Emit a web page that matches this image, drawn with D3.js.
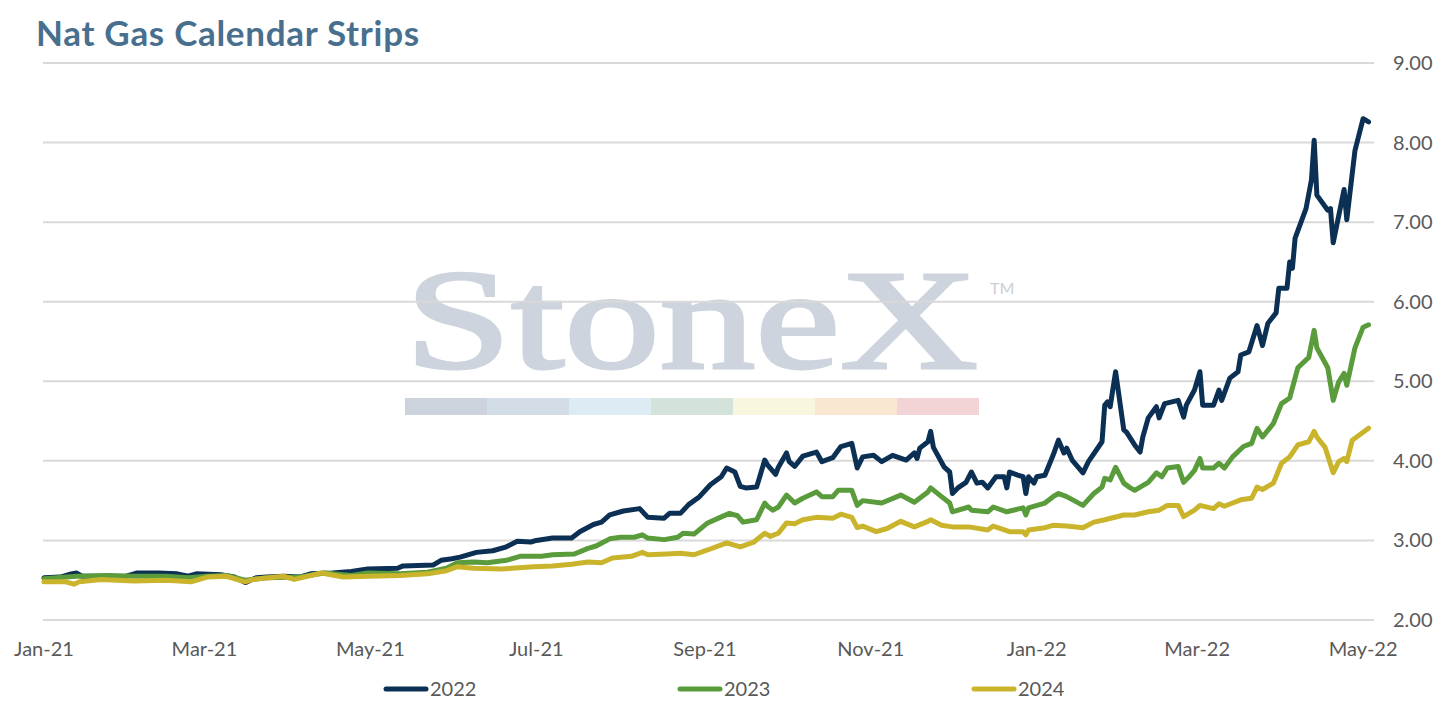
<!DOCTYPE html>
<html>
<head>
<meta charset="utf-8">
<title>Nat Gas Calendar Strips</title>
<script src="https://cdn.jsdelivr.net/npm/d3@7"></script>
<style>
  body { margin: 0; background: #fff; }
  svg { display: block; font-family: Lato, "Open Sans", sans-serif; }
</style>
</head>
<body>
<svg id="chart" width="1443" height="709"></svg>
<script>
// calendar strip settlements, [date, $/MMBtu]
var strip2022 = [["2021-01-01",2.53],["2021-01-07",2.54],["2021-01-11",2.58],["2021-01-13",2.59],["2021-01-15",2.55],["2021-01-25",2.55],["2021-01-30",2.54],["2021-02-04",2.59],["2021-02-12",2.59],["2021-02-19",2.58],["2021-02-23",2.55],["2021-02-26",2.58],["2021-03-07",2.57],["2021-03-12",2.54],["2021-03-16",2.47],["2021-03-20",2.53],["2021-03-24",2.54],["2021-03-30",2.55],["2021-04-05",2.54],["2021-04-09",2.58],["2021-04-17",2.59],["2021-04-24",2.61],["2021-04-30",2.64],["2021-05-11",2.65],["2021-05-13",2.68],["2021-05-24",2.69],["2021-05-27",2.75],["2021-05-31",2.77],["2021-06-03",2.79],["2021-06-09",2.85],["2021-06-15",2.87],["2021-06-20",2.92],["2021-06-24",2.99],["2021-06-29",2.98],["2021-07-01",3.00],["2021-07-07",3.03],["2021-07-14",3.03],["2021-07-17",3.11],["2021-07-22",3.20],["2021-07-25",3.23],["2021-07-28",3.32],["2021-08-02",3.37],["2021-08-08",3.40],["2021-08-11",3.29],["2021-08-17",3.28],["2021-08-19",3.34],["2021-08-23",3.34],["2021-08-26",3.45],["2021-08-30",3.55],["2021-09-03",3.70],["2021-09-07",3.80],["2021-09-09",3.91],["2021-09-12",3.86],["2021-09-14",3.68],["2021-09-16",3.66],["2021-09-20",3.67],["2021-09-23",4.01],["2021-09-24",3.95],["2021-09-27",3.83],["2021-09-28",3.92],["2021-10-01",4.10],["2021-10-02",3.99],["2021-10-04",3.93],["2021-10-07",4.06],["2021-10-12",4.11],["2021-10-14",3.99],["2021-10-18",4.04],["2021-10-21",4.18],["2021-10-25",4.22],["2021-10-27",3.91],["2021-10-29",4.05],["2021-11-02",4.07],["2021-11-05",3.99],["2021-11-09",4.07],["2021-11-14",4.01],["2021-11-17",4.10],["2021-11-18",4.03],["2021-11-19",4.16],["2021-11-22",4.24],["2021-11-23",4.37],["2021-11-24",4.17],["2021-11-28",3.92],["2021-11-30",3.86],["2021-12-01",3.59],["2021-12-03",3.66],["2021-12-06",3.73],["2021-12-08",3.86],["2021-12-10",3.72],["2021-12-12",3.73],["2021-12-14",3.66],["2021-12-17",3.80],["2021-12-20",3.80],["2021-12-21",3.66],["2021-12-22",3.86],["2021-12-25",3.82],["2021-12-27",3.80],["2021-12-28",3.59],["2021-12-29",3.80],["2021-12-31",3.72],["2022-01-01",3.80],["2022-01-04",3.82],["2022-01-07",4.07],["2022-01-09",4.26],["2022-01-11",4.10],["2022-01-12",4.16],["2022-01-14",4.01],["2022-01-18",3.85],["2022-01-20",3.99],["2022-01-23",4.14],["2022-01-25",4.24],["2022-01-26",4.70],["2022-01-27",4.74],["2022-01-28",4.68],["2022-01-30",5.12],["2022-02-02",4.39],["2022-02-03",4.36],["2022-02-06",4.20],["2022-02-08",4.11],["2022-02-09",4.30],["2022-02-11",4.54],["2022-02-14",4.68],["2022-02-15",4.54],["2022-02-17",4.72],["2022-02-22",4.76],["2022-02-24",4.55],["2022-02-25",4.70],["2022-02-28",4.89],["2022-03-02",5.12],["2022-03-03",4.70],["2022-03-07",4.70],["2022-03-09",4.89],["2022-03-10",4.76],["2022-03-13",5.04],["2022-03-16",5.12],["2022-03-17",5.33],["2022-03-20",5.37],["2022-03-23",5.70],["2022-03-25",5.45],["2022-03-27",5.73],["2022-03-30",5.86],["2022-03-31",6.17],["2022-04-03",6.17],["2022-04-04",6.50],["2022-04-05",6.42],["2022-04-06",6.80],["2022-04-10",7.17],["2022-04-12",7.53],["2022-04-13",8.03],["2022-04-14",7.34],["2022-04-18",7.15],["2022-04-19",7.17],["2022-04-20",6.74],["2022-04-24",7.41],["2022-04-25",7.03],["2022-04-28",7.90],["2022-05-01",8.30],["2022-05-03",8.26]];

var strip2023 = [["2021-01-01",2.52],["2021-01-13",2.55],["2021-01-25",2.56],["2021-02-03",2.55],["2021-02-15",2.55],["2021-02-23",2.53],["2021-03-02",2.55],["2021-03-09",2.56],["2021-03-16",2.50],["2021-03-24",2.53],["2021-04-05",2.54],["2021-04-14",2.59],["2021-04-24",2.56],["2021-04-30",2.59],["2021-05-12",2.58],["2021-05-22",2.60],["2021-05-29",2.65],["2021-06-02",2.72],["2021-06-08",2.73],["2021-06-13",2.72],["2021-06-20",2.75],["2021-06-25",2.80],["2021-07-03",2.80],["2021-07-07",2.82],["2021-07-15",2.83],["2021-07-20",2.90],["2021-07-23",2.93],["2021-07-28",3.02],["2021-08-01",3.04],["2021-08-06",3.04],["2021-08-09",3.07],["2021-08-11",3.03],["2021-08-17",3.01],["2021-08-22",3.04],["2021-08-24",3.09],["2021-08-28",3.08],["2021-09-02",3.22],["2021-09-06",3.28],["2021-09-10",3.34],["2021-09-13",3.31],["2021-09-15",3.23],["2021-09-20",3.26],["2021-09-23",3.47],["2021-09-24",3.43],["2021-09-26",3.38],["2021-09-28",3.42],["2021-10-01",3.57],["2021-10-04",3.47],["2021-10-07",3.53],["2021-10-12",3.61],["2021-10-14",3.55],["2021-10-18",3.55],["2021-10-20",3.63],["2021-10-25",3.63],["2021-10-27",3.44],["2021-10-29",3.50],["2021-11-05",3.47],["2021-11-12",3.57],["2021-11-17",3.48],["2021-11-22",3.61],["2021-11-23",3.66],["2021-11-27",3.55],["2021-11-30",3.47],["2021-12-01",3.36],["2021-12-07",3.42],["2021-12-08",3.38],["2021-12-14",3.36],["2021-12-16",3.42],["2021-12-21",3.36],["2021-12-27",3.41],["2021-12-28",3.32],["2021-12-29",3.41],["2022-01-04",3.47],["2022-01-07",3.55],["2022-01-09",3.59],["2022-01-12",3.55],["2022-01-18",3.44],["2022-01-22",3.59],["2022-01-25",3.67],["2022-01-26",3.78],["2022-01-28",3.76],["2022-01-30",3.92],["2022-02-02",3.72],["2022-02-04",3.67],["2022-02-06",3.63],["2022-02-11",3.73],["2022-02-14",3.85],["2022-02-16",3.80],["2022-02-18",3.91],["2022-02-22",3.93],["2022-02-24",3.73],["2022-02-26",3.80],["2022-02-28",3.88],["2022-03-02",4.03],["2022-03-03",3.91],["2022-03-07",3.91],["2022-03-09",3.97],["2022-03-11",3.91],["2022-03-14",4.05],["2022-03-18",4.18],["2022-03-21",4.22],["2022-03-23",4.41],["2022-03-25",4.30],["2022-03-29",4.47],["2022-04-01",4.72],["2022-04-04",4.79],["2022-04-07",5.17],["2022-04-11",5.30],["2022-04-13",5.64],["2022-04-14",5.42],["2022-04-18",5.17],["2022-04-20",4.76],["2022-04-22",4.99],["2022-04-24",5.10],["2022-04-25",4.95],["2022-04-28",5.42],["2022-05-01",5.68],["2022-05-03",5.71]];

var strip2024 = [["2021-01-01",2.48],["2021-01-09",2.48],["2021-01-12",2.45],["2021-01-14",2.48],["2021-01-22",2.51],["2021-02-03",2.49],["2021-02-15",2.50],["2021-02-24",2.48],["2021-03-02",2.54],["2021-03-09",2.55],["2021-03-16",2.48],["2021-03-19",2.51],["2021-03-30",2.55],["2021-04-03",2.51],["2021-04-13",2.59],["2021-04-21",2.54],["2021-04-30",2.55],["2021-05-12",2.56],["2021-05-22",2.58],["2021-05-29",2.62],["2021-06-02",2.67],["2021-06-08",2.65],["2021-06-18",2.64],["2021-06-30",2.67],["2021-07-07",2.68],["2021-07-14",2.70],["2021-07-20",2.73],["2021-07-25",2.72],["2021-07-29",2.78],["2021-08-05",2.80],["2021-08-09",2.85],["2021-08-11",2.82],["2021-08-18",2.83],["2021-08-23",2.84],["2021-08-28",2.82],["2021-09-02",2.88],["2021-09-09",2.97],["2021-09-14",2.92],["2021-09-19",2.98],["2021-09-23",3.09],["2021-09-25",3.05],["2021-09-28",3.09],["2021-10-01",3.22],["2021-10-04",3.21],["2021-10-07",3.26],["2021-10-12",3.29],["2021-10-18",3.28],["2021-10-21",3.33],["2021-10-25",3.29],["2021-10-27",3.16],["2021-10-29",3.18],["2021-11-03",3.11],["2021-11-07",3.15],["2021-11-12",3.24],["2021-11-17",3.17],["2021-11-22",3.24],["2021-11-23",3.26],["2021-11-27",3.19],["2021-12-01",3.17],["2021-12-07",3.17],["2021-12-14",3.13],["2021-12-16",3.18],["2021-12-22",3.11],["2021-12-27",3.11],["2021-12-28",3.07],["2021-12-29",3.13],["2022-01-04",3.16],["2022-01-07",3.19],["2022-01-12",3.18],["2022-01-18",3.16],["2022-01-22",3.23],["2022-01-26",3.26],["2022-02-02",3.32],["2022-02-06",3.32],["2022-02-11",3.36],["2022-02-15",3.38],["2022-02-18",3.44],["2022-02-22",3.44],["2022-02-24",3.30],["2022-02-28",3.38],["2022-03-02",3.44],["2022-03-07",3.40],["2022-03-09",3.46],["2022-03-11",3.43],["2022-03-14",3.47],["2022-03-17",3.51],["2022-03-21",3.53],["2022-03-23",3.67],["2022-03-25",3.64],["2022-03-29",3.72],["2022-04-01",3.97],["2022-04-04",4.05],["2022-04-07",4.20],["2022-04-11",4.24],["2022-04-13",4.37],["2022-04-14",4.30],["2022-04-17",4.17],["2022-04-20",3.85],["2022-04-22",3.99],["2022-04-24",4.03],["2022-04-25",3.99],["2022-04-27",4.26],["2022-05-03",4.41]];

var seriesNames = ["2022", "2023", "2024"];
var seriesColors = ["#0c3053", "#5a9b3c", "#c9b42c"];
var xTicks = ["2021-01-01","2021-03-01","2021-05-01","2021-07-01","2021-09-01","2021-11-01","2022-01-01","2022-03-01","2022-05-01"];
var yTicks = [2, 3, 4, 5, 6, 7, 8, 9];
var bandColors = ["#ccd3dc", "#d3dde8", "#ddebf4", "#d4e3da", "#f8f6dd", "#f9e7d1", "#f3d4d6"];

var parse = d3.timeParse("%Y-%m-%d");
var svg = d3.select("#chart");

var x = d3.scaleTime()
    .domain([parse("2021-01-01"), parse("2022-05-05")])
    .range([44, 1374]);
var y = d3.scaleLinear().domain([2, 9]).range([620, 63]);

// title
svg.append("text")
    .attr("x", 36).attr("y", 46)
    .attr("fill", "#48708e")
    .style("font-size", "35px")
    .style("font-weight", 700)
    .style("letter-spacing", "0.7px")
    .text("Nat Gas Calendar Strips");

// watermark
var wm = svg.append("g");
wm.append("text")
    .attr("x", 405).attr("y", 368)
    .attr("textLength", 573).attr("lengthAdjust", "spacingAndGlyphs")
    .attr("fill", "#cdd4dd")
    .attr("stroke", "#cdd4dd").attr("stroke-width", 3)
    .style("font-family", "'Liberation Serif', serif")
    .style("font-size", "141px")
    .text("StoneX");
wm.append("text")
    .attr("x", 990).attr("y", 294)
    .attr("fill", "#c9ced5")
    .style("font-size", "16px")
    .text("TM");
wm.selectAll("rect").data(bandColors).enter().append("rect")
    .attr("x", function(d, i) { return 405 + i * 82; })
    .attr("y", 398)
    .attr("width", 82).attr("height", 17)
    .attr("fill", function(d) { return d; });

// gridlines + y labels
svg.append("g").selectAll("line").data(yTicks).enter().append("line")
    .attr("x1", x.range()[0] - 1).attr("x2", x.range()[1])
    .attr("y1", function(d) { return y(d); })
    .attr("y2", function(d) { return y(d); })
    .attr("stroke", "#d9d9d9").attr("stroke-width", 2);

svg.append("g").selectAll("text").data(yTicks).enter().append("text")
    .attr("x", 1393)
    .attr("y", function(d) { return y(d); })
    .attr("dy", "0.35em")
    .attr("fill", "#595959")
    .style("font-size", "20px")
    .text(d3.format(".2f"));

// x labels
var fmt = d3.timeFormat("%b-%y");
svg.append("g").selectAll("text").data(xTicks).enter().append("text")
    .attr("x", function(d) { return x(parse(d)); })
    .attr("y", 656)
    .attr("text-anchor", "middle")
    .attr("fill", "#595959")
    .style("font-size", "20px")
    .text(function(d) { return fmt(parse(d)); });

// lines
var line = d3.line()
    .x(function(d) { return x(parse(d[0])); })
    .y(function(d) { return y(d[1]); });

[strip2022, strip2023, strip2024].forEach(function(s, i) {
    svg.append("path")
        .datum(s)
        .attr("d", line)
        .attr("fill", "none")
        .attr("stroke", seriesColors[i])
        .attr("stroke-width", 5)
        .attr("stroke-linejoin", "round")
        .attr("stroke-linecap", "round");
});

// legend
var leg = svg.append("g").selectAll("g").data(seriesNames).enter().append("g")
    .attr("transform", function(d, i) { return "translate(" + (386 + i * 294) + ",689)"; });
leg.append("line")
    .attr("x1", 0).attr("x2", 40)
    .attr("stroke", function(d, i) { return seriesColors[i]; })
    .attr("stroke-width", 5)
    .attr("stroke-linecap", "round");
leg.append("text")
    .attr("x", 44).attr("dy", "0.36em")
    .attr("fill", "#595959")
    .style("font-size", "20px")
    .text(function(d) { return d; });
</script>
</body>
</html>
